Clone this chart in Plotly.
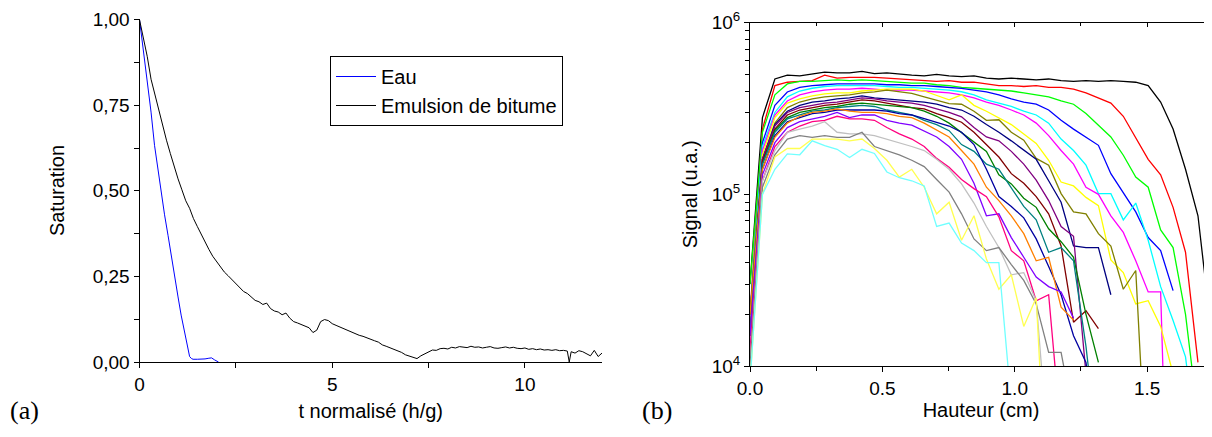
import plotly.graph_objects as go

# ---- panel (a): saturation vs normalised time ----
T_EAU = [0, 0.1, 0.22, 0.3, 0.39, 0.48, 0.56, 0.65, 0.74, 0.83, 0.91, 1.0, 1.08, 1.15,
         1.21, 1.26, 1.3, 1.35, 1.39, 1.5, 1.6, 1.7, 1.8, 1.87, 1.95, 2.05]
S_EAU = [1.0, 0.91, 0.817, 0.73, 0.633, 0.56, 0.497, 0.43, 0.37, 0.305, 0.244, 0.19, 0.137,
         0.095, 0.059, 0.032, 0.016, 0.01, 0.008, 0.008, 0.008, 0.009, 0.011, 0.012, 0.006, 0.0]

T_EMULSION = [0.0, 0.1, 0.2, 0.3, 0.4, 0.5, 0.6, 0.7, 0.8, 0.9, 1.0, 1.1, 1.2, 1.3, 1.4, 1.5,
              1.6, 1.7, 1.8, 1.9, 2.0, 2.1, 2.2, 2.3, 2.4, 2.5, 2.6, 2.7, 2.8, 2.9, 3.0, 3.1,
              3.2, 3.3, 3.4, 3.5, 3.6, 3.7, 3.8, 3.9, 4.0, 4.1, 4.2, 4.3, 4.4, 4.5, 4.6, 4.7,
              4.8, 4.9, 5.0, 5.1, 5.2, 5.3, 5.4, 5.5, 5.6, 5.7, 5.8, 5.9, 6.0, 6.1, 6.2, 6.3,
              6.4, 6.5, 6.6, 6.7, 6.8, 6.9, 7.0, 7.1, 7.2, 7.3, 7.4, 7.5, 7.6, 7.7, 7.8, 7.9,
              8.0, 8.1, 8.2, 8.3, 8.4, 8.5, 8.6, 8.7, 8.8, 8.9, 9.0, 9.1, 9.2, 9.3, 9.4, 9.5,
              9.6, 9.7, 9.8, 9.9, 10.0, 10.1, 10.2, 10.3, 10.4, 10.5, 10.6, 10.7, 10.8, 10.9,
              11.0, 11.1, 11.15, 11.2, 11.3, 11.4, 11.5, 11.6, 11.7, 11.8, 11.9, 12.0]
S_EMULSION = [1.000, 0.950, 0.893, 0.826, 0.781, 0.733, 0.690, 0.648, 0.609, 0.570, 0.535,
              0.503, 0.471, 0.449, 0.419, 0.396, 0.372, 0.350, 0.329, 0.309, 0.293, 0.276,
              0.263, 0.252, 0.240, 0.231, 0.218, 0.206, 0.200, 0.190, 0.180, 0.176, 0.168,
              0.172, 0.156, 0.149, 0.146, 0.138, 0.143, 0.128, 0.118, 0.114, 0.110, 0.104,
              0.100, 0.086, 0.093, 0.118, 0.124, 0.121, 0.112, 0.107, 0.102, 0.096, 0.093,
              0.087, 0.083, 0.078, 0.075, 0.070, 0.066, 0.062, 0.058, 0.050, 0.046, 0.042,
              0.036, 0.033, 0.028, 0.021, 0.018, 0.014, 0.010, 0.018, 0.024, 0.030, 0.035,
              0.034, 0.039, 0.040, 0.038, 0.043, 0.041, 0.045, 0.044, 0.042, 0.046, 0.043,
              0.044, 0.041, 0.043, 0.045, 0.041, 0.040, 0.042, 0.044, 0.041, 0.043, 0.040,
              0.039, 0.041, 0.037, 0.039, 0.036, 0.038, 0.035, 0.036, 0.034, 0.036, 0.033,
              0.034, 0.032, 0.000, 0.030, 0.026, 0.033, 0.030, 0.024, 0.018, 0.034, 0.016,
              0.026]

# ---- panel (b): signal profiles vs height ----
HAUTEUR = [0.0, 0.047, 0.094, 0.141, 0.188, 0.235, 0.282, 0.329, 0.376, 0.423, 0.47, 0.517,
           0.564, 0.611, 0.658, 0.705, 0.752, 0.799, 0.846, 0.893, 0.94, 0.987, 1.034, 1.081,
           1.128, 1.175, 1.222, 1.269, 1.316, 1.363, 1.41, 1.457, 1.504, 1.551, 1.598, 1.645,
           1.692, 1.739]

P_BLACK = [3e4, 2.8e5, 4.7e5, 4.95e5, 4.9e5, 5.0e5, 5.15e5, 5.1e5, 5.1e5, 5.2e5, 5.05e5,
           5.1e5, 5.0e5, 4.95e5, 4.9e5, 5.0e5, 4.9e5, 4.85e5, 4.9e5, 4.75e5, 4.7e5, 4.75e5,
           4.7e5, 4.65e5, 4.7e5, 4.6e5, 4.55e5, 4.6e5, 4.55e5, 4.6e5, 4.55e5, 4.5e5, 4.3e5,
           3.45e5, 2.4e5, 1.4e5, 7.5e4, 1.75e4]
P_RED = [2e4, 2.4e5, 4.3e5, 4.5e5, 4.55e5, 4.6e5, 4.95e5, 4.75e5, 4.8e5, 4.8e5, 4.8e5,
         4.75e5, 4.7e5, 4.65e5, 4.6e5, 4.55e5, 4.6e5, 4.5e5, 4.5e5, 4.4e5, 4.3e5, 4.3e5,
         4.25e5, 4.3e5, 4.2e5, 4.2e5, 4.1e5, 3.9e5, 3.65e5, 3.4e5, 2.85e5, 2.15e5, 1.6e5,
         1.3e5, 8.4e4, 4.6e4, 1.05e4]
P_GREEN = [3e4, 2.3e5, 3.8e5, 4.4e5, 4.55e5, 4.55e5, 4.6e5, 4.65e5, 4.6e5, 4.65e5, 4.6e5,
           4.55e5, 4.5e5, 4.45e5, 4.45e5, 4.35e5, 4.3e5, 4.2e5, 4.15e5, 4.1e5, 4.05e5, 4.0e5,
           3.9e5, 3.8e5, 3.7e5, 3.5e5, 3.35e5, 2.96e5, 2.53e5, 2.16e5, 1.69e5, 1.26e5, 1.1e5,
           6.2e4, 4.9e4, 2.0e4, 5e3]
P_BLUE = [1.5e4, 2.0e5, 3.3e5, 3.95e5, 4.2e5, 4.3e5, 4.35e5, 4.4e5, 4.4e5, 4.4e5, 4.4e5,
          4.35e5, 4.35e5, 4.3e5, 4.3e5, 4.25e5, 4.2e5, 4.14e5, 4.05e5, 3.95e5, 3.8e5, 3.6e5,
          3.45e5, 3.35e5, 3.1e5, 2.7e5, 2.4e5, 2.15e5, 1.93e5, 1.32e5, 1.03e5, 7.9e4, 5.6e4,
          4.7e4, 2.75e4]
P_CYAN = [2e4, 1.9e5, 3.0e5, 3.7e5, 4.0e5, 4.15e5, 4.25e5, 4.3e5, 4.3e5, 4.3e5, 4.3e5,
          4.25e5, 4.2e5, 4.2e5, 4.15e5, 4.1e5, 4.05e5, 3.96e5, 3.8e5, 3.55e5, 3.4e5, 3.25e5,
          3.05e5, 2.9e5, 2.6e5, 2.1e5, 1.8e5, 1.48e5, 1.01e5, 1.01e5, 7.1e4, 8.9e4, 5.4e4,
          2.9e4, 1.84e4, 1.13e4, 3e3]
P_MAGENTA = [1.2e4, 1.8e5, 2.9e5, 3.5e5, 3.8e5, 3.95e5, 4.05e5, 4.1e5, 4.1e5, 4.15e5, 4.1e5,
             4.05e5, 4.05e5, 4.05e5, 4.0e5, 3.95e5, 3.9e5, 3.8e5, 3.65e5, 3.45e5, 3.3e5, 3.1e5,
             2.9e5, 2.6e5, 2.2e5, 1.8e5, 1.5e5, 1.1e5, 1.0e5, 7.5e4, 6.0e4, 4.1e4, 2.7e4,
             2.7e4, 1e2]
P_YELLOW = [1e4, 1.7e5, 2.8e5, 3.4e5, 3.6e5, 3.75e5, 3.85e5, 3.9e5, 3.9e5, 4.0e5, 4.05e5,
            4.1e5, 4.1e5, 4.1e5, 4.0e5, 3.75e5, 3.55e5, 3.8e5, 3.3e5, 3.05e5, 2.8e5, 2.55e5,
            2.25e5, 1.98e5, 1.58e5, 1.18e5, 1.12e5, 9.6e4, 8.6e4, 4.15e4, 3.5e4, 2.3e4,
            2.4e4, 1.7e4, 9e3]
P_DARKYELLOW = [1.5e4, 1.6e5, 2.6e5, 3.2e5, 3.45e5, 3.6e5, 3.7e5, 3.75e5, 3.8e5, 3.9e5,
                3.95e5, 4.05e5, 3.95e5, 3.87e5, 3.7e5, 3.55e5, 3.38e5, 3.35e5, 3.05e5, 2.7e5,
                2.72e5, 2.3e5, 2.07e5, 1.62e5, 1.48e5, 1.01e5, 7.9e4, 7.7e4, 5.9e4, 5.0e4,
                2.8e4, 3.6e4, 1.5e3]
P_NAVY = [1e4, 1.6e5, 2.55e5, 3.05e5, 3.3e5, 3.45e5, 3.5e5, 3.6e5, 3.65e5, 3.75e5, 3.65e5,
          3.6e5, 3.55e5, 3.5e5, 3.45e5, 3.35e5, 3.2e5, 3.1e5, 2.85e5, 2.55e5, 2.3e5, 2.05e5,
          1.8e5, 1.6e5, 1.2e5, 9.0e4, 5.0e4, 4.9e4, 4.9e4, 2.6e4]
P_PURPLE = [2e4, 1.6e5, 2.5e5, 3.0e5, 3.2e5, 3.3e5, 3.4e5, 3.45e5, 3.55e5, 3.65e5, 3.6e5,
            3.5e5, 3.45e5, 3.4e5, 3.3e5, 3.15e5, 3.0e5, 2.83e5, 2.45e5, 2.16e5, 2.05e5,
            1.78e5, 1.5e5, 1.21e5, 9.2e4, 6.5e4, 5.7e4, 9e3]
P_WINE = [1.5e4, 1.55e5, 2.4e5, 2.9e5, 3.1e5, 3.2e5, 3.3e5, 3.35e5, 3.45e5, 3.55e5, 3.5e5,
          3.4e5, 3.3e5, 3.2e5, 3.15e5, 2.95e5, 2.8e5, 2.63e5, 2.3e5, 1.95e5, 1.65e5, 1.32e5,
          1.16e5, 9.7e4, 7.7e4, 5.0e4, 1.8e4, 2.1e4, 1.65e4]
P_OLIVE = [2e4, 1.5e5, 2.35e5, 2.8e5, 3.0e5, 3.1e5, 3.2e5, 3.25e5, 3.35e5, 3.4e5, 3.35e5,
           3.3e5, 3.25e5, 3.2e5, 3.05e5, 2.85e5, 2.6e5, 2.3e5, 2.03e5, 1.78e5, 1.3e5, 1.15e5,
           9.5e4, 8.4e4, 6.3e4, 5.3e4, 4.3e4, 2.0e4, 1.05e4]
P_DARKCYAN = [1.5e4, 1.5e5, 2.3e5, 2.75e5, 2.9e5, 3.05e5, 3.1e5, 3.2e5, 3.25e5, 3.3e5, 3.25e5,
              3.1e5, 3.0e5, 2.9e5, 2.7e5, 2.55e5, 2.35e5, 1.95e5, 1.78e5, 1.5e5, 1.4e5,
              1.1e5, 8.5e4, 7.1e4, 4.6e4, 4.9e4, 4.1e4, 1.3e4, 3e3]
P_ROYAL = [1e4, 1.4e5, 2.2e5, 2.65e5, 2.8e5, 2.95e5, 3.0e5, 3.1e5, 3.1e5, 3.1e5, 3.1e5,
           3.05e5, 2.95e5, 2.9e5, 2.75e5, 2.63e5, 2.5e5, 2.3e5, 1.95e5, 1.4e5, 9.7e4, 8.5e4,
           7.3e4, 5.5e4, 3.8e4, 2.6e4, 1.5e4, 1.05e4, 3e3]
P_ORANGE = [2e4, 1.4e5, 2.15e5, 2.6e5, 2.85e5, 3.0e5, 3.05e5, 3.15e5, 3.05e5, 3.0e5, 3.0e5,
            2.95e5, 2.85e5, 2.8e5, 2.6e5, 2.36e5, 2.16e5, 1.8e5, 1.5e5, 1.1e5, 9.2e4, 7.5e4,
            5.9e4, 4.1e4, 4.3e4, 2.2e4, 1.85e4]
P_VIOLET = [1.5e4, 1.3e5, 2.0e5, 2.45e5, 2.65e5, 2.75e5, 2.85e5, 3.0e5, 2.8e5, 2.9e5, 2.9e5,
            2.7e5, 2.6e5, 2.53e5, 2.35e5, 2.16e5, 1.9e5, 1.6e5, 1.16e5, 7.5e4, 7.7e4, 5.6e4,
            4.3e4, 3.3e4, 2.9e4, 2.7e4, 1.9e4]
P_PINK = [1.2e4, 1.2e5, 1.9e5, 2.3e5, 2.5e5, 2.65e5, 2.7e5, 2.85e5, 2.75e5, 2.75e5, 2.7e5,
          2.45e5, 2.25e5, 2.1e5, 1.9e5, 1.62e5, 1.44e5, 1.22e5, 1.08e5, 9.7e4, 7.4e4, 4.7e4,
          4.1e4, 2.4e4, 2.6e4, 4e3]
P_LTGRAY = [1e4, 1.2e5, 1.8e5, 2.3e5, 2.4e5, 2.5e5, 2.65e5, 2.3e5, 2.25e5, 2.25e5, 2.2e5,
            2.1e5, 2.0e5, 1.9e5, 1.8e5, 1.6e5, 1.4e5, 1.15e5, 8.9e4, 6.5e4, 4.9e4, 3.4e4,
            3.5e4, 2.4e4, 3e3]
P_GRAY = [1e4, 1.1e5, 1.7e5, 2.1e5, 2.2e5, 2.15e5, 2.2e5, 2.15e5, 2.15e5, 2.3e5, 1.9e5,
          1.8e5, 1.7e5, 1.58e5, 1.45e5, 1.22e5, 1.03e5, 7.7e4, 5.5e4, 4.7e4, 4.9e4, 3.9e4,
          3.15e4, 2.3e4, 1.2e4, 1.2e4, 5e3]
P_LTYELLOW = [8e3, 1.0e5, 1.65e5, 1.85e5, 1.85e5, 2.1e5, 2.1e5, 2.1e5, 2.05e5, 2.1e5, 1.85e5,
              1.58e5, 1.26e5, 1.4e5, 1.1e5, 7.7e4, 9.0e4, 5.4e4, 7.5e4, 4.2e4, 2.8e4, 3.4e4,
              1.7e4, 2.5e4, 1e3]
P_LTCYAN = [8e3, 1.0e5, 1.4e5, 1.72e5, 1.7e5, 2.05e5, 1.92e5, 1.83e5, 1.64e5, 1.83e5, 1.73e5,
            1.35e5, 1.25e5, 1.2e5, 1.12e5, 6.5e4, 6.8e4, 5.2e4, 4.7e4, 4.0e4, 4.0e4, 6e3]

PROFILES = [
    (P_BLACK, "#000000"), (P_RED, "#ff0000"), (P_GREEN, "#00ff00"), (P_BLUE, "#0000ff"),
    (P_CYAN, "#00ffff"), (P_MAGENTA, "#ff00ff"), (P_YELLOW, "#ffff00"),
    (P_DARKYELLOW, "#808000"), (P_NAVY, "#000080"), (P_PURPLE, "#800080"),
    (P_WINE, "#800000"), (P_OLIVE, "#008000"), (P_DARKCYAN, "#008080"),
    (P_ROYAL, "#0000a0"), (P_ORANGE, "#ff8000"), (P_VIOLET, "#8000ff"),
    (P_PINK, "#ff0080"), (P_LTGRAY, "#c0c0c0"), (P_GRAY, "#808080"),
    (P_LTYELLOW, "#ffff50"), (P_LTCYAN, "#70ffff"),
]

W, H = 1212, 437
OFF = 8  # the page body adds an 8px margin around the figure
SANS = "Liberation Sans, Arial, sans-serif"
TICKFONT = dict(family=SANS, size=19, color="black")


def px_x(p):
    return (p - OFF) / W


def px_y(p):
    return 1 - (p - OFF) / H


fig = go.Figure()

fig.add_trace(go.Scatter(x=T_EAU, y=S_EAU, mode="lines", name="Eau",
                         line=dict(color="#0000ff", width=1), xaxis="x", yaxis="y"))
fig.add_trace(go.Scatter(x=T_EMULSION, y=S_EMULSION, mode="lines", name="Emulsion de bitume",
                         line=dict(color="black", width=1), xaxis="x", yaxis="y"))

for prof, col in PROFILES:
    fig.add_trace(go.Scatter(x=HAUTEUR[:len(prof)], y=prof, mode="lines", showlegend=False,
                             line=dict(color=col, width=1.3), xaxis="x2", yaxis="y2"))

# dummy trace so the top overlay axis is drawn
fig.add_trace(go.Scatter(x=[None], y=[None], xaxis="x3", yaxis="y2", showlegend=False))

axis_common = dict(showline=True, linecolor="black", linewidth=1, showgrid=False,
                   zeroline=False, ticks="outside", ticklen=5, tickcolor="black",
                   tickfont=TICKFONT)
TITLEFONT = dict(family=SANS, size=20, color="black")

fig.update_layout(
    width=W, height=H,
    margin=dict(l=0, r=0, t=0, b=0, autoexpand=False),
    paper_bgcolor="white", plot_bgcolor="white",
    font=dict(family=SANS, size=19, color="black"),
    showlegend=True,
    legend=dict(x=px_x(330), y=px_y(56), xanchor="left", yanchor="top",
                bordercolor="black", borderwidth=1, bgcolor="white",
                font=dict(family=SANS, size=20, color="black"), tracegroupgap=0,
                itemwidth=40),
    xaxis=dict(axis_common, domain=[px_x(139.5), px_x(602)], range=[0, 12],
               tickvals=[0, 5, 10], ticktext=["0", "5", "10"],
               minor=dict(ticks="outside", ticklen=5, tickvals=[2.5, 7.5], tickcolor="black"),
               title=dict(text="t normalisé (h/g)", standoff=10, font=TITLEFONT), anchor="y"),
    yaxis=dict(axis_common, domain=[px_y(362), px_y(19)], range=[0, 1.002],
               tickvals=[0, 0.25, 0.5, 0.75, 1.0],
               ticktext=["0,00", "0,25", "0,50", "0,75", "1,00"],
               minor=dict(ticks="outside", ticklen=5, tickvals=[0.125, 0.375, 0.625, 0.875],
                          tickcolor="black"),
               title=dict(text="Saturation", standoff=22, font=TITLEFONT), anchor="x"),
    xaxis2=dict(axis_common, domain=[px_x(750), px_x(1212)], range=[0, 1.745],
                tickvals=[0, 0.5, 1.0, 1.5], ticktext=["0.0", "0.5", "1.0", "1.5"],
                minor=dict(ticks="outside", ticklen=4, tickvals=[0.25, 0.75, 1.25],
                           tickcolor="black"),
                title=dict(text="Hauteur (cm)", standoff=2, font=TITLEFONT), anchor="y2"),
    xaxis3=dict(overlaying="x2", side="top", range=[0, 1.745], showline=True,
                linecolor="black", linewidth=1, showgrid=False, zeroline=False,
                ticks="inside", ticklen=4, tickcolor="black", tickvals=[0.5, 1.0, 1.5],
                showticklabels=False,
                minor=dict(ticks="inside", ticklen=3, tickvals=[0.25, 0.75, 1.25],
                           tickcolor="black"),
                anchor="y2"),
    yaxis2=dict(axis_common, type="log", domain=[px_y(366), px_y(22.7)], range=[4, 6],
                tickvals=[1e4, 1e5, 1e6],
                ticktext=["10<sup>4</sup>", "10<sup>5</sup>", "10<sup>6</sup>"],
                minor=dict(ticks="outside", ticklen=4, tickcolor="black",
                           tickvals=[m * 10 ** e for e in (4, 5) for m in range(2, 10)]),
                title=dict(text="Signal (u.a.)", standoff=8, font=TITLEFONT), anchor="x2"),
)

for txt, x in (("(a)", 8), ("(b)", 640)):
    fig.add_annotation(text=txt, x=px_x(x), y=px_y(410), xref="paper", yref="paper",
                       xanchor="left", yanchor="middle", showarrow=False,
                       font=dict(family="Liberation Serif, DejaVu Serif, serif", size=26,
                                 color="black"))

fig.write_html("out.html")
